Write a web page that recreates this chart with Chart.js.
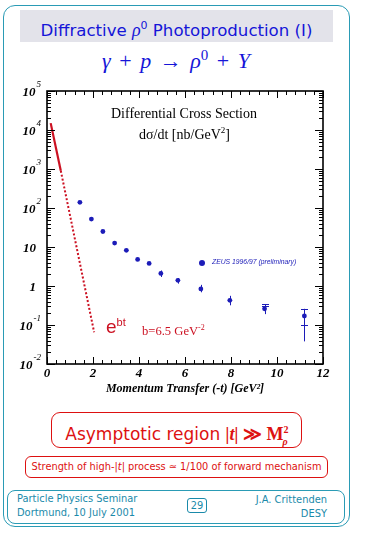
<!DOCTYPE html>
<html>
<head>
<meta charset="utf-8">
<script src="https://cdn.jsdelivr.net/npm/chart.js@4.4.1/dist/chart.umd.min.js"></script>
<style>
  body { margin: 0; background: #fff; }
  #page { position: relative; width: 365px; height: 535px; overflow: hidden; font-family: 'DejaVu Sans', sans-serif; }
  .abs { position: absolute; white-space: nowrap; }
  #frame { left: 3px; top: 5px; width: 345px; height: 520px; border: 1.5px solid #2a9bb5; border-radius: 12px; }
  #titlebox { left: 20px; top: 10px; width: 313px; height: 32px; background: #e3e3ea; color: #1515d8; font-size: 16.6px; line-height: 32px; text-align: center; }
  #eq { left: 0; width: 352px; top: 47px; text-align: center; color: #1515d8; font-family: 'Liberation Serif', serif; font-size: 22px; word-spacing: 3px; }
  #eq sup { font-size: 15px; font-style: normal; }
  #chartWrap { left: 0; top: 80px; width: 345px; height: 320px; }
  .note { font-family: 'Liberation Serif', serif; color: #000; }
  #bigbox { left: 51px; top: 412px; width: 249px; height: 34px; border: 1.3px solid #dd1111; border-radius: 9px; color: #dd1111; font-size: 17px; line-height: 34px; text-align: center; }
  #bigbox .m { font-family: 'Liberation Serif', serif; font-weight: bold; font-size: 18px; }
  #smallbox { left: 25px; top: 456px; width: 301px; height: 20px; border: 1.2px solid #dd1111; border-radius: 6px; color: #dd1111; font-size: 9.8px; line-height: 20px; text-align: center; }
  #footer { left: 7px; top: 490px; width: 336px; height: 32px; border: 1.3px solid #2a9bb5; border-radius: 8px; }
  .ft { color: #1a8aaa; font-size: 9.9px; }
  #pg { left: 187px; top: 498px; width: 18px; height: 13px; border: 1.2px solid #1a8aaa; border-radius: 3px; text-align: center; line-height: 13px; }
</style>
</head>
<body>
<div id="page">
  <div id="frame" class="abs"></div>
  <div id="titlebox" class="abs">Diffractive <i style="font-family:'Liberation Serif',serif;font-size:18px">ρ</i><sup style="font-size:11px">0</sup> Photoproduction (I)</div>
  <div id="eq" class="abs"><i>γ</i> + <i>p</i> → <i>ρ</i><sup>0</sup> + <i>Y</i></div>

  <div id="chartWrap" class="abs"><canvas id="chart" width="345" height="320"></canvas></div>

  <div class="abs note" style="left:111px;top:106px;font-size:14px;">Differential Cross Section</div>
  <div class="abs note" style="left:139px;top:125px;font-size:14px;">dσ/dt [nb/GeV<sup style="font-size:9px">2</sup>]</div>
  <div class="abs" style="left:199px;top:260px;width:6px;height:6px;border-radius:3px;background:#1c1cb8;"></div>
  <div class="abs" style="left:212px;top:258px;font-family:'Liberation Sans',sans-serif;font-style:italic;font-size:6.8px;color:#1c1cb8;">ZEUS 1996/97 (preliminary)</div>
  <div class="abs" style="left:106px;top:316px;color:#cc1122;font-size:19px;font-family:'Liberation Sans',sans-serif;">e<sup style="font-size:11px;">bt</sup></div>
  <div class="abs note" style="left:142px;top:323px;color:#cc1122;font-size:12.6px;">b=6.5 GeV<sup style="font-size:8px">-2</sup></div>

  <div id="bigbox" class="abs">Asymptotic region <span class="m"><i>|t|</i> ≫ M<sup style="font-size:10px;">2</sup><sub style="font-size:10px;margin-left:-6px;"><i>ρ</i></sub></span></div>
  <div id="smallbox" class="abs">Strength of high-|<i>t</i>| process ≃ 1/100 of forward mechanism</div>

  <div id="footer" class="abs"></div>
  <div class="abs ft" style="left:17px;top:493px;">Particle Physics Seminar</div>
  <div class="abs ft" style="left:17px;top:507px;">Dortmund, 10 July 2001</div>
  <div id="pg" class="abs ft">29</div>
  <div class="abs ft" style="right:38px;top:494px;">J.A. Crittenden</div>
  <div class="abs ft" style="right:38px;top:508px;">DESY</div>
</div>

<script>
// ZEUS 1996/97 data
const tValues = [1.43, 1.93, 2.43, 2.94, 3.45, 3.94, 4.44, 4.95, 5.69, 6.69, 7.95, 9.46, 11.19];
const dsdt    = [140, 52, 25, 12.6, 8.2, 4.8, 3.8, 2.1, 1.4, 0.84, 0.43, 0.26, 0.17];
const errHi   = [null, null, null, null, null, null, null, 2.5, 1.6, 1.07, 0.56, 0.34, 0.26];
const errLo   = [null, null, null, null, null, null, null, 1.7, 1.15, 0.69, 0.32, 0.19, 0.038];
const capMid  = [null, null, null, null, null, null, null, null, null, null, null, 0.3, 0.1];

// e^bt reference line, b = 6.5 GeV^-2
const expSolidT = [0.16, 0.6];
const expSolidY = [15000, 900];
const expDotT   = [0.6, 2.05];
const expDotY   = [900, 0.065];

// axis ticks
const xTicks = [0, 2, 4, 6, 8, 10, 12];
const yTickValues = [1e-2, 1e-1, 1, 10, 1e2, 1e3, 1e4, 1e5];
const yTickBase   = ['10', '10', '1', '10', '10', '10', '10', '10'];
const yTickExp    = ['-2', '-1', '', '', '2', '3', '4', '5'];

const blue = '#1c1cb8';
const red = '#cc1122';

const framePlugin = {
    id: 'frame',
    afterDraw(chart) {
        const ctx = chart.ctx;
        const a = chart.chartArea;
        const xs = chart.scales.x, ys = chart.scales.y;
        ctx.save();

        // error bars
        ctx.strokeStyle = blue;
        ctx.lineWidth = 1;
        tValues.forEach((t, i) => {
            if (errHi[i] == null) return;
            const px = Math.round(xs.getPixelForValue(t)) + 0.5;
            const top = ys.getPixelForValue(errHi[i]);
            const bot = ys.getPixelForValue(errLo[i]);
            ctx.beginPath();
            ctx.moveTo(px, top);
            ctx.lineTo(px, bot);
            ctx.stroke();
            if (capMid[i] != null) {
                [errHi[i], capMid[i]].forEach(v => {
                    const py = Math.round(ys.getPixelForValue(v)) + 0.5;
                    ctx.beginPath();
                    ctx.moveTo(px - 3.5, py);
                    ctx.lineTo(px + 3.5, py);
                    ctx.stroke();
                });
            }
        });

        // frame
        ctx.strokeStyle = '#000';
        ctx.lineWidth = 1.6;
        ctx.strokeRect(a.left, a.top, a.right - a.left, a.bottom - a.top);

        // x ticks, inside, top and bottom
        ctx.lineWidth = 1;
        for (let v = 0; v <= 12.001; v += 0.4) {
            const major = Math.abs(v / 2 - Math.round(v / 2)) < 0.01;
            const len = major ? 7 : 4;
            const px = Math.round(xs.getPixelForValue(v)) + 0.5;
            ctx.beginPath();
            ctx.moveTo(px, a.bottom); ctx.lineTo(px, a.bottom - len);
            ctx.moveTo(px, a.top); ctx.lineTo(px, a.top + len);
            ctx.stroke();
        }
        // y ticks, log minors, left and right
        for (let e = -2; e <= 5; e++) {
            for (let m = 1; m <= 9; m++) {
                const v = m * Math.pow(10, e);
                if (v > 1e5 * 1.001) break;
                const len = m === 1 ? 8 : 4;
                const py = Math.round(ys.getPixelForValue(v)) + 0.5;
                ctx.beginPath();
                ctx.moveTo(a.left, py); ctx.lineTo(a.left + len, py);
                ctx.moveTo(a.right, py); ctx.lineTo(a.right - len, py);
                ctx.stroke();
            }
        }

        // y labels with exponents
        ctx.fillStyle = '#000';
        ctx.textBaseline = 'middle';
        yTickValues.forEach((v, i) => {
            const py = ys.getPixelForValue(v) + 2;
            ctx.font = 'italic bold 13px "Liberation Serif"';
            const exp = yTickExp[i];
            if (exp) {
                ctx.font = 'italic 9px "Liberation Serif"';
                const w = ctx.measureText(exp).width;
                ctx.textAlign = 'left';
                ctx.fillText(exp, 41 - w, py - 8);
                ctx.font = 'italic bold 13px "Liberation Serif"';
                ctx.textAlign = 'right';
                ctx.fillText(yTickBase[i], 41 - w - 1, py);
            } else {
                ctx.textAlign = 'right';
                ctx.fillText(yTickBase[i], 36, py);
            }
        });
        ctx.restore();
    }
};

new Chart(document.getElementById('chart'), {
    type: 'scatter',
    data: {
        datasets: [{
            label: 'ZEUS 1996/97 (preliminary)',
            data: tValues.map((t, i) => ({ x: t, y: dsdt[i] })),
            backgroundColor: blue,
            borderColor: blue,
            pointRadius: 2.4,
            pointBorderWidth: 0
        }, {
            label: 'e^bt',
            data: expSolidT.map((t, i) => ({ x: t, y: expSolidY[i] })),
            showLine: true,
            borderColor: red,
            borderWidth: 2.2,
            pointRadius: 0
        }, {
            label: 'e^bt dotted',
            data: expDotT.map((t, i) => ({ x: t, y: expDotY[i] })),
            showLine: true,
            borderColor: red,
            borderWidth: 2,
            borderDash: [2, 2],
            pointRadius: 0
        }]
    },
    options: {
        responsive: false,
        animation: false,
        layout: { padding: { top: 11, right: 22, left: 0, bottom: 0 } },
        plugins: { legend: { display: false }, tooltip: { enabled: false } },
        scales: {
            x: {
                type: 'linear',
                min: 0,
                max: 12,
                afterBuildTicks: s => { s.ticks = xTicks.map(v => ({ value: v })); },
                afterFit: s => { s.height = 36; },
                grid: { display: false, drawTicks: false, tickLength: 0 },
                border: { display: false },
                ticks: {
                    color: '#000',
                    padding: 2,
                    maxRotation: 0,
                    font: { family: 'Liberation Serif', size: 13, style: 'italic', weight: 'bold' }
                },
                title: {
                    display: true,
                    text: 'Momentum Transfer (-t) [GeV²]',
                    color: '#000',
                    padding: { top: 0, bottom: 4 },
                    font: { family: 'Liberation Serif', size: 12, style: 'italic', weight: 'bold' }
                }
            },
            y: {
                type: 'logarithmic',
                min: 0.01,
                max: 1e5,
                afterBuildTicks: s => { s.ticks = yTickValues.map(v => ({ value: v })); },
                afterFit: s => { s.width = 47; },
                grid: { display: false },
                border: { display: false },
                ticks: { display: false }
            }
        }
    },
    plugins: [framePlugin]
});
</script>
</body>
</html>
